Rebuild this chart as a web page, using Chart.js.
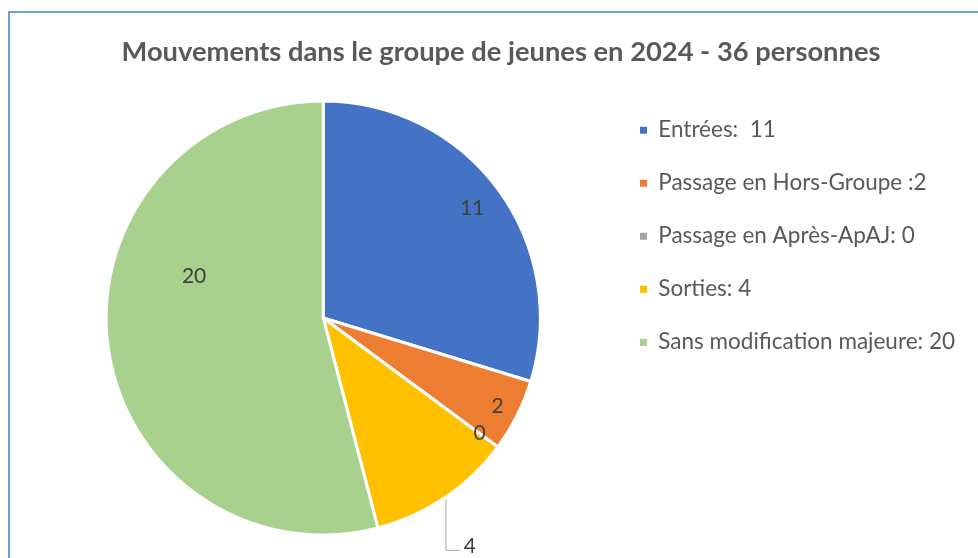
<!DOCTYPE html>
<html lang="fr">
<head>
<meta charset="utf-8">
<title>Mouvements dans le groupe de jeunes en 2024</title>
<script src="https://cdn.jsdelivr.net/npm/chart.js@4.4.1/dist/chart.umd.min.js"></script>
<style>
  html, body { margin: 0; padding: 0; background: #fff; overflow: hidden; }
  #frame {
    position: absolute; left: 8px; top: 11px;
    width: 1000px; height: 600px;
    border-left: 2px solid #6A9EDA; border-top: 2px solid #6A9EDA;
  }
  #wrap { position: absolute; left: 0; top: 0; width: 978px; height: 558px; }
</style>
</head>
<body>
<div id="frame"></div>
<div id="wrap"><canvas id="pieChart"></canvas></div>
<script>
// data
const categories = ['Entrées:  11', 'Passage en Hors-Groupe :2', 'Passage en Après-ApAJ: 0', 'Sorties: 4', 'Sans modification majeure: 20'];
const values = [11, 2, 0, 4, 20];
const colors = ['#4472C4', '#ED7D31', '#A5A5A5', '#FFC000', '#A9D18E'];
const chartTitle = 'Mouvements dans le groupe de jeunes en 2024 - 36 personnes';

const FONT = 'Lato, "Open Sans", sans-serif';

// where each value label sits: fraction of radius + extra turn (deg)
const labelPlacement = [
    { r: 0.853, turn: 0 },
    { r: 0.90, turn: 0 },
    { r: 0.896, turn: 0 },
    { r: 1.25, turn: 1.35, leader: true },
    { r: 0.625, turn: 25.1 }
];

// draws the numbers on the slices (Excel style data labels)
const valueLabels = {
    id: 'valueLabels',
    afterDatasetsDraw(chart) {
        const ctx = chart.ctx;
        const arcs = chart.getDatasetMeta(0).data;
        ctx.save();
        ctx.font = '21px ' + FONT;
        ctx.fillStyle = '#404040';
        ctx.textAlign = 'center';
        ctx.textBaseline = 'middle';
        arcs.forEach((arc, i) => {
            const p = arc.getProps(['x', 'y', 'startAngle', 'endAngle', 'outerRadius'], true);
            const place = labelPlacement[i];
            const mid = (p.startAngle + p.endAngle) / 2;
            const a = mid + place.turn * Math.PI / 180;
            const lx = p.x + Math.cos(a) * p.outerRadius * place.r;
            const ly = p.y + Math.sin(a) * p.outerRadius * place.r;
            if (place.leader) {
                const sx = p.x + Math.cos(mid) * (p.outerRadius + 2);
                const sy = p.y + Math.sin(mid) * (p.outerRadius + 2);
                ctx.strokeStyle = '#A6A6A6';
                ctx.lineWidth = 1;
                ctx.beginPath();
                ctx.moveTo(sx, sy);
                ctx.lineTo(sx, ly + 4);
                ctx.lineTo(lx - 10, ly + 4);
                ctx.stroke();
            }
            ctx.fillText(String(values[i]), lx, ly);
        });
        ctx.restore();
    }
};

const ctx = document.getElementById('pieChart').getContext('2d');
const myPieChart = new Chart(ctx, {
    type: 'pie',
    data: {
        labels: categories,
        datasets: [{
            data: values,
            backgroundColor: colors,
            borderColor: '#FFFFFF',
            borderWidth: 3,
            hoverOffset: 0,
            radius: '95%'
        }]
    },
    options: {
        responsive: true,
        maintainAspectRatio: false,
        animation: false,
        layout: {
            padding: { left: 37, right: 13, top: 0, bottom: 10 }
        },
        plugins: {
            title: {
                display: true,
                text: chartTitle,
                color: '#595959',
                font: { family: FONT, size: 27.3, weight: 'bold' },
                padding: { top: 36, bottom: 19.2 }
            },
            legend: {
                position: 'right',
                align: 'start',
                title: {
                    display: true,
                    text: '',
                    font: { size: 12 },
                    padding: { top: 74, bottom: 0 }
                },
                labels: {
                    boxWidth: 7,
                    boxHeight: 7,
                    padding: 30.5,
                    color: '#595959',
                    font: { family: FONT, size: 22.5 },
                    generateLabels: () => categories.map((text, i) => ({
                        text: text,
                        fillStyle: colors[i],
                        strokeStyle: colors[i],
                        lineWidth: 0,
                        fontColor: '#595959',
                        hidden: false,
                        index: i
                    }))
                }
            },
            tooltip: { enabled: false }
        }
    },
    plugins: [valueLabels]
});
</script>
</body>
</html>
